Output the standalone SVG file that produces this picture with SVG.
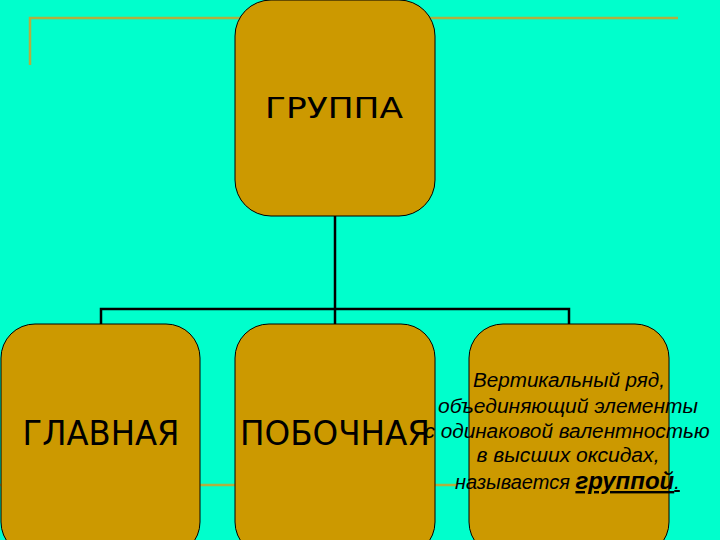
<svg xmlns="http://www.w3.org/2000/svg" width="720" height="540" viewBox="0 0 720 540">
<style>
.node{fill:#CC9900;stroke:#000;stroke-width:1}
.deco{stroke:#B0B040;stroke-width:2.5;fill:none}
.conn{stroke:#000;stroke-width:2.5;fill:none}
.big{font-family:"DejaVu Sans","Liberation Sans",sans-serif;fill:#000;text-anchor:middle}
.it{font-family:"Liberation Sans",Arial,sans-serif;font-style:italic;font-size:20px;fill:#000;text-anchor:middle}
</style>
<rect width="720" height="540" fill="#00FFCC"/>
<g id="decoration">
<polyline class="deco" points="30,65 30,18 678,18"/>
<line class="deco" x1="0" y1="485" x2="457" y2="485" stroke-width="2"/>
</g>
<g id="connectors">
<line class="conn" x1="335" y1="216" x2="335" y2="324"/>
<polyline class="conn" points="101,324 101,309 569,309 569,324"/>
</g>
<g id="node-gruppa">
<rect class="node" x="235" y="0" width="200" height="216" rx="36" ry="36"/>
<text class="big" x="334" y="118" font-size="28" textLength="138" lengthAdjust="spacingAndGlyphs">ГРУППА</text>
</g>
<g id="node-glavnaya">
<rect class="node" x="1" y="324" width="199" height="232" rx="34" ry="34"/>
<text class="big" x="101" y="445" font-size="34" textLength="157" lengthAdjust="spacingAndGlyphs">ГЛАВНАЯ</text>
</g>
<g id="node-pobochnaya">
<rect class="node" x="235" y="324" width="200" height="232" rx="34" ry="34"/>
<text class="big" x="335" y="445" font-size="34" textLength="190" lengthAdjust="spacingAndGlyphs">ПОБОЧНАЯ</text>
</g>
<g id="node-definition">
<rect class="node" x="469" y="324" width="200" height="232" rx="34" ry="34"/>
<text class="it" x="569" y="387" textLength="192" lengthAdjust="spacingAndGlyphs">Вертикальный ряд,</text>
<text class="it" x="568" y="413" textLength="260" lengthAdjust="spacingAndGlyphs">объединяющий элементы</text>
<text class="it" x="567" y="438" textLength="285" lengthAdjust="spacingAndGlyphs">с одинаковой валентностью</text>
<text class="it" x="568" y="462" textLength="183" lengthAdjust="spacingAndGlyphs">в высших оксидах,</text>
<text class="it" x="455" y="489" style="text-anchor:start">называется <tspan font-weight="bold" font-size="24" text-decoration="underline">группой</tspan><tspan text-decoration="underline">.</tspan></text>
</g>
</svg>
